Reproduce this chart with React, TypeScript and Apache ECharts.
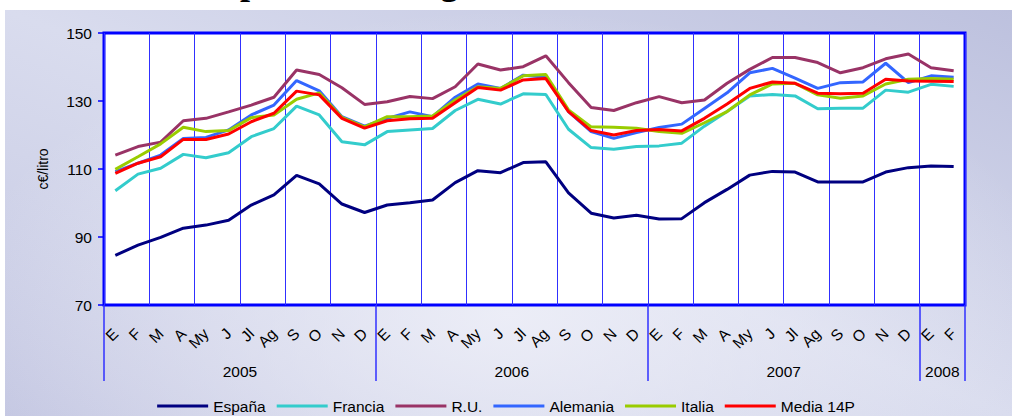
import React, { useEffect, useRef } from 'react';
import * as echarts from 'echarts';

const monthLabels = [
  'E', 'F', 'M', 'A', 'My', 'J', 'Jl', 'Ag', 'S', 'O', 'N', 'D',
  'E', 'F', 'M', 'A', 'My', 'J', 'Jl', 'Ag', 'S', 'O', 'N', 'D',
  'E', 'F', 'M', 'A', 'My', 'J', 'Jl', 'Ag', 'S', 'O', 'N', 'D',
  'E', 'F',
];
const years = ['2005', '2006', '2007', '2008'];
const monthsPerYear = [12, 12, 12, 2];

const yMin = 70;
const yMax = 150;
const yStep = 20;

const espana = [
  84.6, 87.6, 89.9, 92.6, 93.5, 94.9, 99.4, 102.4, 108.1, 105.6, 99.7, 97.2,
  99.4, 100.1, 100.9, 106.0, 109.5, 108.9, 111.9, 112.1, 103.0, 97.0, 95.6, 96.4,
  95.3, 95.4, 100.1, 104.0, 108.2, 109.3, 109.1, 106.2, 106.2, 106.2, 109.1, 110.4,
  110.9, 110.7,
];
const francia = [
  103.6, 108.5, 110.2, 114.3, 113.3, 114.8, 119.5, 121.9, 128.5, 125.9, 118.0, 117.1,
  121.0, 121.5, 121.9, 127.2, 130.5, 129.1, 132.1, 131.9, 121.7, 116.3, 115.8, 116.6,
  116.8, 117.6, 122.6, 126.9, 131.5, 131.9, 131.5, 127.7, 127.9, 127.9, 133.2, 132.6,
  134.9, 134.3,
];
const reinoUnido = [
  114.1, 116.6, 117.9, 124.2, 124.9, 126.8, 128.8, 131.1, 139.1, 137.8, 133.9, 129.0,
  129.8, 131.3, 130.7, 134.2, 140.9, 139.1, 140.1, 143.3, 135.4, 128.1, 127.2, 129.5,
  131.3, 129.5, 130.3, 135.2, 139.3, 142.8, 142.8, 141.3, 138.3, 139.8, 142.4, 143.8,
  139.8, 138.9,
];
const alemania = [
  109.2, 111.7, 114.1, 119.0, 119.3, 121.5, 125.9, 128.8, 136.0, 133.0, 125.4, 122.6,
  124.9, 126.8, 125.4, 131.1, 135.0, 133.7, 137.6, 137.0, 126.9, 121.0, 119.0, 120.7,
  122.2, 123.2, 127.8, 132.4, 138.3, 139.6, 136.7, 133.7, 135.4, 135.6, 141.1, 135.4,
  137.4, 137.0,
];
const italia = [
  109.9, 113.6, 117.4, 122.3, 121.0, 121.3, 125.1, 125.9, 130.5, 132.4, 125.2, 122.4,
  125.4, 125.4, 125.6, 130.3, 134.2, 133.7, 137.4, 137.8, 127.4, 122.4, 122.3, 122.0,
  121.0, 120.5, 123.6, 126.9, 131.8, 135.0, 135.2, 131.8, 130.8, 131.5, 135.0, 136.4,
  136.6, 136.4,
];
const media14P = [
  108.7, 111.7, 113.6, 118.7, 118.7, 120.3, 123.9, 126.4, 132.9, 131.8, 124.9, 122.0,
  124.2, 124.8, 124.9, 129.5, 134.0, 133.2, 136.2, 136.6, 126.9, 121.3, 120.0, 121.3,
  121.6, 121.2, 124.9, 129.1, 133.7, 135.6, 135.2, 132.3, 132.1, 132.3, 136.4, 135.9,
  135.8, 135.7,
];

const seriesDefs = [
  { name: 'España', data: espana, color: '#000080' },
  { name: 'Francia', data: francia, color: '#33cccc' },
  { name: 'R.U.', data: reinoUnido, color: '#993366' },
  { name: 'Alemania', data: alemania, color: '#3366ff' },
  { name: 'Italia', data: italia, color: '#99cc00' },
  { name: 'Media 14P', data: media14P, color: '#ff0000' },
];

const FONT = 'Liberation Sans, Arial, sans-serif';
const SERIF = 'Liberation Serif, Times New Roman, serif';

export default function App() {
  const ref = useRef<HTMLDivElement>(null);

  useEffect(() => {
    if (!ref.current) return;
    const chart = echarts.init(ref.current, null, { renderer: 'svg' });

    const boundaries = [0];
    monthsPerYear.forEach((n) => boundaries.push(boundaries[boundaries.length - 1] + n));
    const yearCenters = monthsPerYear.map((n, i) => boundaries[i] + n / 2);
    const total = boundaries[boundaries.length - 1];

    chart.setOption({
      animation: false,
      backgroundColor: 'transparent',
      textStyle: { fontFamily: FONT },
      graphic: [
        {
          type: 'text',
          left: 32,
          top: -36,
          silent: true,
          style: {
            text: 'Evolución de precios de la gasolina',
            fontFamily: SERIF,
            fontWeight: 'bold',
            fontSize: 36,
            fill: '#000',
          },
        },
      ],
      grid: {
        left: 104,
        right: 47,
        top: 33,
        bottom: 111,
        show: true,
        backgroundColor: '#ffffff',
        borderColor: '#0000ff',
        borderWidth: 3,
        containLabel: false,
      },
      legend: {
        top: 398,
        left: 'center',
        padding: 0,
        icon: 'rect',
        itemWidth: 51,
        itemHeight: 3,
        itemGap: 11,
        textStyle: { fontFamily: FONT, fontSize: 15.5, color: '#000' },
        data: seriesDefs.map((s) => s.name),
      },
      xAxis: [
        {
          type: 'category',
          data: monthLabels,
          boundaryGap: true,
          axisLine: { show: false },
          axisTick: { show: false },
          axisLabel: {
            interval: 0,
            rotate: 45,
            margin: 26,
            fontFamily: FONT,
            fontSize: 15.5,
            color: '#000',
          },
          splitLine: {
            show: true,
            interval: (index: number) => index % 2 === 0,
            lineStyle: { color: '#3030ff', width: 1 },
          },
          z: 3,
        },
        {
          type: 'value',
          min: 0,
          max: total,
          position: 'bottom',
          axisLine: { show: false },
          splitLine: { show: false },
          axisTick: {
            show: true,
            customValues: boundaries,
            length: 76,
            lineStyle: { color: '#3030ff', width: 1.5 },
          },
          axisLabel: {
            customValues: yearCenters,
            formatter: (v: number) => {
              const idx = yearCenters.findIndex((c) => Math.abs(c - v) < 1e-6);
              return idx >= 0 ? years[idx] : '';
            },
            margin: 58,
            fontFamily: FONT,
            fontSize: 15.5,
            color: '#000',
          },
        },
      ],
      yAxis: {
        type: 'value',
        min: yMin,
        max: yMax,
        interval: yStep,
        name: 'c€/litro',
        nameLocation: 'middle',
        nameGap: 54,
        nameTextStyle: { fontFamily: FONT, fontSize: 14, color: '#000' },
        axisLine: { show: false },
        axisTick: { show: true, length: 6, lineStyle: { color: '#0000ff', width: 1.5 } },
        axisLabel: { margin: 12, fontFamily: FONT, fontSize: 15.5, color: '#000' },
        splitLine: { show: false },
      },
      series: seriesDefs.map((s) => ({
        name: s.name,
        type: 'line',
        xAxisIndex: 0,
        data: s.data,
        symbol: 'none',
        color: s.color,
        lineStyle: { color: s.color, width: 3 },
        itemStyle: { color: s.color },
        z: 5,
      })),
    });

    return () => chart.dispose();
  }, []);

  return (
    <div style={{ position: 'fixed', left: 0, top: 0, width: 1012, height: 416, background: '#ffffff', overflow: 'hidden' }}>
      <div
        style={{
          position: 'absolute',
          left: 5,
          top: 10,
          right: 0,
          bottom: 0,
          background:
            'radial-gradient(ellipse 55% 75% at 50% 75%, rgba(240,241,249,0.85) 0%, rgba(240,241,249,0) 100%), linear-gradient(to top right, #c4c7e2 0%, #d9dcee 50%, #bdc1de 100%)',
        }}
      />
      <div ref={ref} style={{ position: 'absolute', left: 0, top: 0, width: 1012, height: 416 }} />
    </div>
  );
}
